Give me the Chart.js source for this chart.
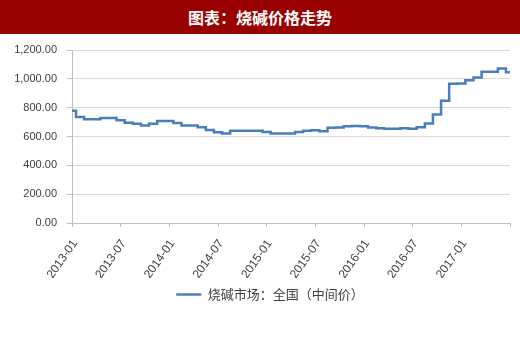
<!DOCTYPE html>
<html>
<head>
<meta charset="utf-8">
<script src="https://cdn.jsdelivr.net/npm/chart.js@4.4.0/dist/chart.umd.min.js"></script>
<style>
body { margin: 0; background: #fff; }
#wrap { position: relative; width: 520px; height: 340px; }
#title { position: absolute; left: 0; top: 0; width: 520px; height: 34px; background: #990000; color: #fff;
  font: bold 16px "Noto Sans CJK SC", sans-serif; text-align: center; line-height: 34px; }
canvas { position: absolute; left: 0; top: 0; }
</style>
</head>
<body>
<div id="wrap">
<canvas id="c" width="520" height="340"></canvas>
<div id="title">图表：烧碱价格走势</div>
</div>
<script>
// monthly categories 2013-01 .. 2017-07
var months = [];
for (var y = 2013; y <= 2017; y++) {
    for (var m = 1; m <= 12; m++) {
        if (y == 2017 && m > 7) break;
        months.push(y + "-" + (m < 10 ? "0" + m : m));
    }
}

var tickLabels = ["2013-01", "2013-07", "2014-01", "2014-07", "2015-01", "2015-07", "2016-01", "2016-07", "2017-01"];
var yTicks = [0, 200, 400, 600, 800, 1000, 1200];

var seriesName = "烧碱市场：全国（中间价）";
var prices = [
    778, 735, 720, 720, 728, 728, 712, 696, 688, 676,
    688, 708, 708, 694, 676, 676, 665, 645, 630, 620,
    640, 640, 640, 640, 632, 620, 620, 621, 632, 640,
    643, 636, 660, 662, 671, 673, 671, 662, 658, 653,
    653, 657, 653, 664, 690, 752, 848, 966, 968, 990,
    1010, 1050, 1050, 1072, 1046
];

function fmt(v) {
    return v.toFixed(2).replace(/\B(?=(\d{3})+(?!\d))/g, ",");
}

// legend in the original sits a bit right of the canvas centre
var legendShift = {
    id: "legendShift",
    afterLayout: function (c) {
        c.legend.left += 15;
        c.legend.right += 15;
    }
};

var ctx = document.getElementById("c").getContext("2d");
var chart = new Chart(ctx, {
    type: "line",
    data: {
        labels: months,
        datasets: [{
            label: seriesName,
            data: prices,
            borderColor: "#4a7ebb",
            backgroundColor: "#4a7ebb",
            borderWidth: 2.5,
            pointRadius: 0,
            stepped: "middle",
            tension: 0
        }]
    },
    plugins: [legendShift],
    options: {
        responsive: false,
        animation: false,
        layout: { padding: { top: 50, left: 0, right: 10, bottom: 29 } },
        plugins: {
            tooltip: { enabled: false },
            legend: {
                position: "bottom",
                labels: {
                    usePointStyle: true,
                    pointStyle: "line",
                    pointStyleWidth: 25,
                    padding: 10,
                    color: "#404040",
                    font: { family: "'Noto Sans CJK SC'", size: 13 }
                }
            }
        },
        scales: {
            x: {
                afterFit: function (s) {
                    s.height = 55;
                    s.paddingLeft = 0;
                    s.paddingRight = 0;
                },
                grid: {
                    drawOnChartArea: false,
                    tickLength: 4,
                    tickColor: function (c) {
                        return tickLabels.indexOf(months[c.index]) >= 0 || c.index == months.length - 1 ? "#bfbfbf" : "rgba(0,0,0,0)";
                    }
                },
                border: { color: "#bfbfbf", width: 1 },
                ticks: {
                    autoSkip: false,
                    maxRotation: 55,
                    minRotation: 55,
                    padding: 10,
                    labelOffset: 3,
                    color: "#404040",
                    font: { family: "'Liberation Sans'", size: 12 },
                    callback: function (v, i) {
                        return tickLabels.indexOf(months[i]) >= 0 ? months[i] : "";
                    }
                }
            },
            y: {
                min: yTicks[0],
                max: yTicks[yTicks.length - 1],
                afterFit: function (s) { s.width = 72; },
                grid: { color: "#d9d9d9", tickLength: 5, tickColor: "#bfbfbf" },
                border: { color: "#bfbfbf", width: 1 },
                afterBuildTicks: function (s) {
                    s.ticks = yTicks.map(function (v) { return { value: v }; });
                },
                ticks: {
                    padding: 10,
                    color: "#404040",
                    font: { family: "'Liberation Sans'", size: 11 },
                    callback: function (v) { return fmt(v); }
                }
            }
        }
    }
});
</script>
</body>
</html>
